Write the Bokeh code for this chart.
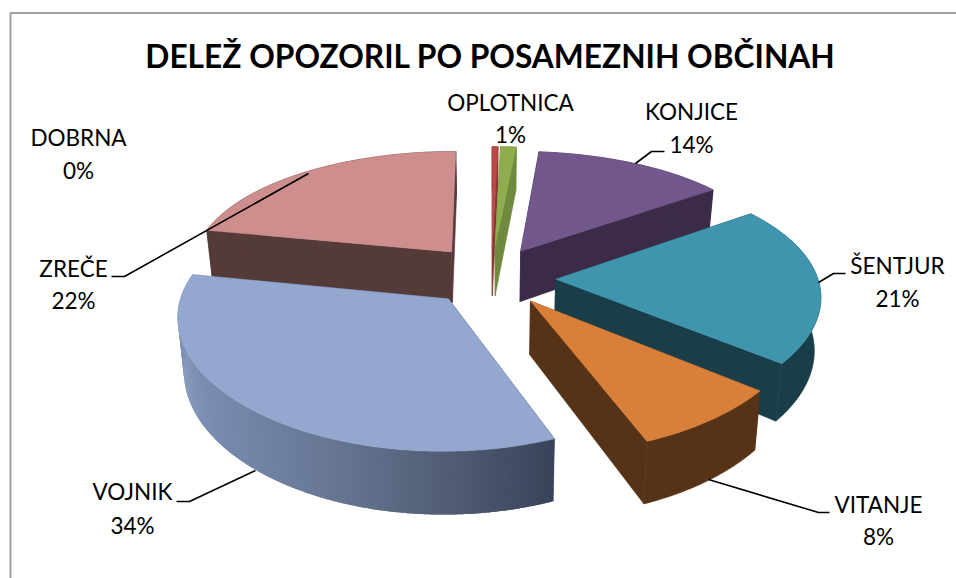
import numpy as np
from bokeh.plotting import figure
from bokeh.models import Range1d
from bokeh.core.properties import value
from bokeh.embed import file_html
from bokeh.resources import INLINE

title = "DELEŽ OPOZORIL PO POSAMEZNIH OBČINAH"
names = ["DOBRNA", "OPLOTNICA", "KONJICE", "ŠENTJUR", "VITANJE", "VOJNIK", "ZREČE"]
shares = [0.4, 1.1, 13.6, 20.7, 8.2, 34.1, 21.9]
pct_labels = ["0%", "1%", "14%", "21%", "8%", "34%", "22%"]
top_colors = ["#B84A47", "#8FAD4F", "#72578D", "#4095AE", "#D8803A", "#93A7CF", "#CE8E8D"]
wall_colors = ["#8A3533", "#6F8A3E", "#3B2B49", "#1A3D4A", "#563316", "#64738F", "#553A3A"]

# label placement: centre x, baseline of the name line, baseline of the percent line
label_x = [78, 510, 691, 897, 878, 132, 73]
label_y1 = [146, 111, 120, 274, 513, 500, 277]
label_y2 = [179, 143, 153, 307, 545, 534, 309]
leader_x = [[664, 651, 635], [845, 833, 818], [829, 818, 708], [176, 189, 255], [111, 124, 308]]
leader_y = [[151, 151, 163], [273, 273, 282], [512, 512, 479], [501, 501, 470], [276, 276, 173]]

# small per-slice corrections of the projected position
nudge_x = [0, 0, -2, 0, 0, -1, 0]
nudge_y = [0, 0, 2, 4, 2, 1, 0]

# 3D projection of the exploded pie
CX, CY, A, B, AX, BY, DEPTH, EXPLODE, SHRINK = 491, 273.8, 262, 121.7, 0.12, 0.15, 52, 0.245, 0.02
TITLE_PX, LABEL_PX, TEXT_SHIFT = 31.7, 22.5, 0.4


def proj(u, v, z, i):
    u, v = np.asarray(u, float), np.asarray(v, float)
    x = CX + nudge_x[i] + A * u / (1 + AX * v) * (1 - SHRINK * z)
    y = CY + nudge_y[i] - B * v / (1 + BY * v) + z * DEPTH / (1 + BY * v)
    return x, y


p = figure(width=956, height=578, x_range=Range1d(0, 956), y_range=Range1d(578, 0),
           toolbar_location=None, output_backend="svg", min_border=0,
           background_fill_color="white", border_fill_color="white", outline_line_color=None)
p.axis.visible = False
p.grid.visible = False

frame_colour = "#A0A0A0"
p.line([10, 10, 956], [578, 12.5, 12.5], line_color=frame_colour, line_width=2)

# Wall shading of the big slice follows screen x
grad_x = [176, 200, 350, 450, 555]
grad_rgb = np.array([[0x80, 0x93, 0xB9], [0x7B, 0x8E, 0xB2], [0x64, 0x73, 0x8F], [0x51, 0x5D, 0x75], [0x39, 0x44, 0x5A]])


def wall_colour(x):
    c = [int(np.interp(x, grad_x, grad_rgb[:, k])) for k in range(3)]
    return "#%02x%02x%02x" % tuple(c)


edges = np.cumsum([0] + shares) * 3.6
order = [6, 0, 1, 2, 3, 5, 4]
for i in order:
    a0, a1 = np.radians(edges[i]), np.radians(edges[i + 1])
    mid = (a0 + a1) / 2
    ou, ov = EXPLODE * np.sin(mid), EXPLODE * np.cos(mid)
    graded = names[i] == "VOJNIK"
    th = np.linspace(a0, a1, max(3, int(np.degrees(a1 - a0) * (3 if graded else 1)) + 2))
    au, av = ou + np.sin(th), ov + np.cos(th)

    # radial faces
    for k in (0, -1):
        xt, yt = proj([ou, au[k]], [ov, av[k]], 0, i)
        xb, yb = proj([ou, au[k]], [ov, av[k]], 1, i)
        fx = [xt[0], xt[1], xb[1], xb[0]]
        fy = [yt[0], yt[1], yb[1], yb[0]]
        col = wall_colour(np.mean(fx)) if graded else wall_colors[i]
        p.patch(fx, fy, fill_color=col, line_color=col, line_width=0.6)

    # outer wall
    xt, yt = proj(au, av, 0, i)
    xb, yb = proj(au, av, 1, i)
    if graded:
        # every strip reaches past the next one, so that no seam shows
        for k in range(len(th) - 1):
            e = min(k + 2, len(th) - 1)
            sx = np.r_[xt[k:e + 1], xb[k:e + 1][::-1]]
            sy = np.r_[yt[k:e + 1], yb[k:e + 1][::-1]]
            col = wall_colour((xt[k] + xt[k + 1]) / 2)
            p.patch(sx, sy, fill_color=col, line_color=None)
    else:
        p.patch(np.r_[xt, xb[::-1]], np.r_[yt, yb[::-1]], fill_color=wall_colors[i],
                line_color=wall_colors[i], line_width=0.6)

    # top surface
    ax_, ay_ = proj(np.r_[ou, au], np.r_[ov, av], 0, i)
    p.patch(ax_, ay_, fill_color=top_colors[i], line_color=top_colors[i], line_width=0.5)

p.multi_line(leader_x, leader_y, line_color="black", line_width=1.6)

lift = TEXT_SHIFT * LABEL_PX
p.text(x=[490], y=[68 - TEXT_SHIFT * TITLE_PX], text=[title], text_font=value("Lato"), text_font_style="bold",
       text_font_size=f"{TITLE_PX}px", text_align="center", text_baseline="alphabetic", text_color="black")
p.text(x=label_x, y=[v - lift for v in label_y1], text=names, text_font=value("Lato"), text_font_size=f"{LABEL_PX}px",
       text_align="center", text_baseline="alphabetic", text_color="black")
p.text(x=label_x, y=[v - lift for v in label_y2], text=pct_labels, text_font=value("Lato"), text_font_size=f"{LABEL_PX}px",
       text_align="center", text_baseline="alphabetic", text_color="black")

open("out.html", "w").write(file_html(p, INLINE))
